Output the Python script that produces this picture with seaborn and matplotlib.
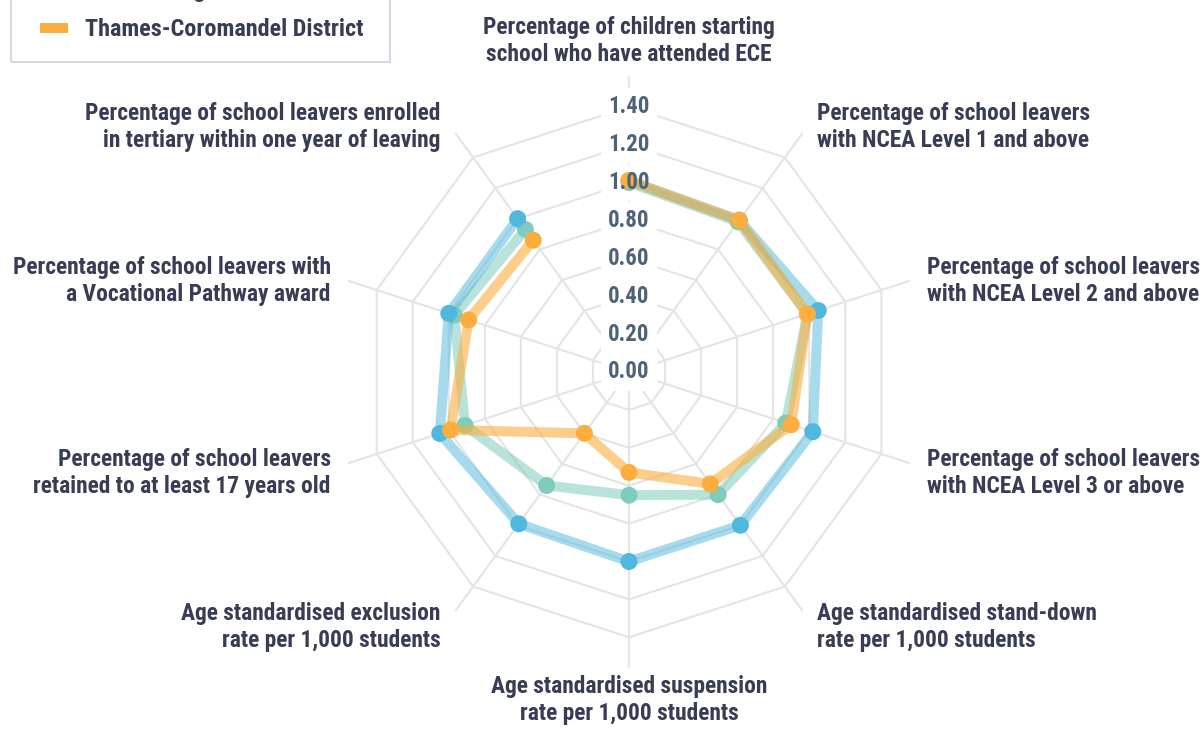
import numpy as np
import pandas as pd
import matplotlib
matplotlib.use("Agg")
import matplotlib.pyplot as plt
from matplotlib.lines import Line2D
from matplotlib.patches import Rectangle
import seaborn as sns

sns.set_style("white")
plt.rcParams['font.family'] = ['Liberation Sans Narrow', 'Roboto Condensed', 'DejaVu Sans']
plt.rcParams['font.weight'] = 'bold'

# indicators, clockwise from the top
categories = [
    "Percentage of children starting\nschool who have attended ECE",
    "Percentage of school leavers\nwith NCEA Level 1 and above",
    "Percentage of school leavers\nwith NCEA Level 2 and above",
    "Percentage of school leavers\nwith NCEA Level 3 or above",
    "Age standardised stand-down\nrate per 1,000 students",
    "Age standardised suspension\nrate per 1,000 students",
    "Age standardised exclusion\nrate per 1,000 students",
    "Percentage of school leavers\nretained to at least 17 years old",
    "Percentage of school leavers with\na Vocational Pathway award",
    "Percentage of school leavers enrolled\nin tertiary within one year of leaving",
]
new_zealand = [1.01, 0.99, 1.05, 1.02, 1.00, 1.00, 0.99, 1.05, 1.00, 1.00]
waikato = [1.00, 0.98, 0.99, 0.87, 0.80, 0.65, 0.74, 0.91, 0.97, 0.93]
thames = [1.01, 0.99, 0.99, 0.90, 0.73, 0.53, 0.40, 0.99, 0.89, 0.86]
series_names = ["New Zealand", "Waikato Region", "Thames-Coromandel District"]
tick_values = [0.0, 0.2, 0.4, 0.6, 0.8, 1.0, 1.2, 1.4]

dot_colors = {"New Zealand": "#4fb8dc", "Waikato Region": "#80ccbc",
              "Thames-Coromandel District": "#fbae3f"}
line_alpha = {"New Zealand": 0.5, "Waikato Region": 0.55,
              "Thames-Coromandel District": 0.6}
layer = {"Waikato Region": 2, "New Zealand": 3, "Thames-Coromandel District": 4}
grid_col = "#e4e4e4"
text_col = "#383c55"
tick_col = "#4d6379"

n = len(categories)
theta = np.arange(n) * 2 * np.pi / n
rmax = 1.56
W, H = 1204, 729

df = pd.DataFrame({
    "theta": np.tile(theta, 3),
    "value": new_zealand + waikato + thames,
    "series": np.repeat(series_names, n),
})

fig = plt.figure(figsize=(W / 100, H / 100), dpi=100)
cx, cy, rpx = 629, 357, 295.6
ax = fig.add_axes([(cx - rpx) / W, (cy - rpx) / H, 2 * rpx / W, 2 * rpx / H],
                  projection='polar')
ax.set_theta_zero_location('N')
ax.set_theta_direction(-1)
ax.set_ylim(0, rmax)
ax.spines['polar'].set_visible(False)
ax.set_xticks(theta)
ax.set_xticklabels([])
ax.set_yticks([])
ax.xaxis.grid(True, color=grid_col, lw=1.5)
ax.yaxis.grid(False)

# polygon rings
ring_theta = np.append(theta, theta[0])
for r in tick_values[1:]:
    ax.plot(ring_theta, [r] * (n + 1), color=grid_col, lw=1.5, zorder=1)

for name in series_names:
    sub = df[df["series"] == name]
    closed = pd.concat([sub, sub.iloc[[0]]])
    sns.lineplot(data=closed, x="theta", y="value", sort=False, ax=ax,
                 color=dot_colors[name], alpha=line_alpha[name], lw=7.2,
                 solid_joinstyle='round', zorder=layer[name], legend=False)
    sns.scatterplot(data=sub, x="theta", y="value", ax=ax, s=150,
                    color=dot_colors[name], edgecolor='none', linewidth=0,
                    zorder=layer[name] + 0.5, legend=False)
ax.set_xlabel("")
ax.set_ylabel("")

# radial tick labels with white backdrop
for v in tick_values:
    ax.text(0, v, f"{v:.2f}", ha='center', va='center', fontsize=16.5,
            color='white', zorder=1.5,
            bbox=dict(boxstyle='square,pad=0.32', fc='white', ec='none'))
    ax.text(0, v, f"{v:.2f}", ha='center', va='center', fontsize=16.5,
            color=tick_col, fontweight='bold', zorder=10)

# category labels
for t, lab in zip(theta, categories):
    s, c = np.sin(t), np.cos(t)
    if abs(s) < 1e-6:
        ha = 'center'
        va = 'bottom' if c > 0 else 'top'
        dx, dy = 0, 3 if c > 0 else 0
    else:
        ha = 'left' if s > 0 else 'right'
        va = 'center'
        dx = 10 * np.sign(s)
        dy = 1 - 6 * (1 - c)
    ax.annotate(lab, xy=(t, 1.6), xytext=(dx, dy), textcoords='offset pixels',
                ha=ha, va=va, fontsize=16.9, color=text_col, fontweight='bold',
                linespacing=1.22, annotation_clip=False)

# legend (box runs off the top of the picture, as in the source)
handles = [Line2D([0], [0], color=dot_colors[nm], lw=7.2, solid_capstyle='butt')
           for nm in series_names]
leg = fig.legend(handles, series_names, loc='lower left',
                 bbox_to_anchor=(40 / W, 1 - 41 / H), borderaxespad=0,
                 frameon=False, fontsize=17.4, handlelength=1.15,
                 handletextpad=0.72, borderpad=0, labelspacing=0.68)
for txt in leg.get_texts():
    txt.set_color(text_col)
    txt.set_fontweight('bold')
fig.patches.append(Rectangle((11 / W, 1 - 62 / H), 379 / W, 80 / H,
                             transform=fig.transFigure, fill=False,
                             ec='#d3d9e3', lw=1.5))

fig.savefig("out.png", dpi=100)
